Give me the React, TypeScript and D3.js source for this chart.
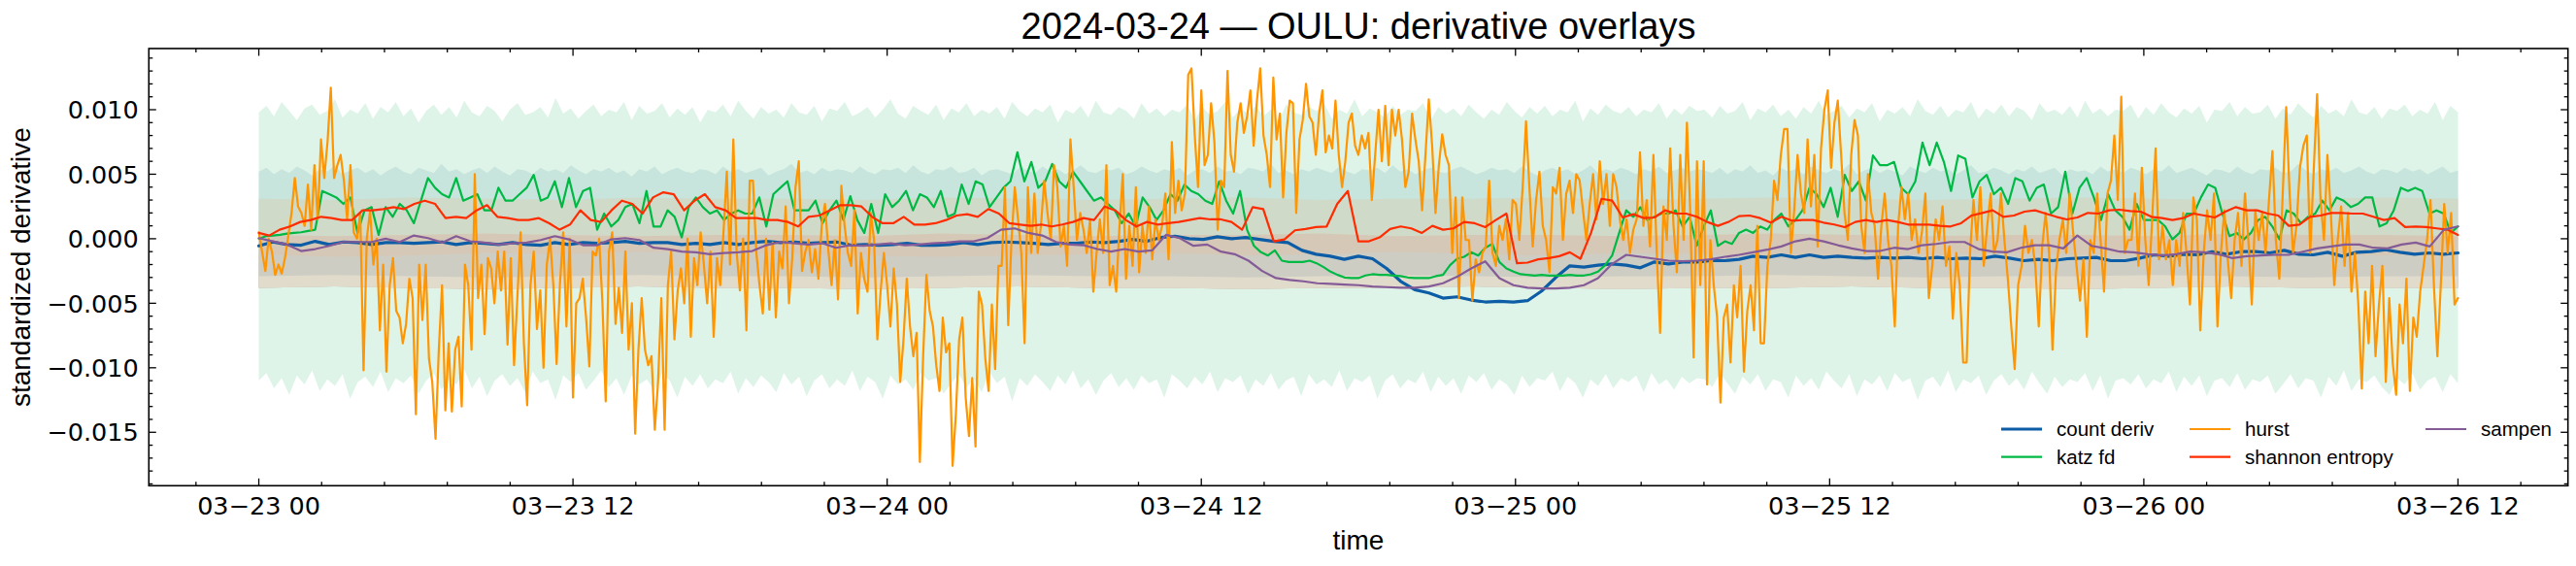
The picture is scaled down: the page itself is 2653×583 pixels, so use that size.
import React from "react";
import * as d3 from "d3";

// time base: 2024-03-23 00:00 UTC, data covers 84 h, read in four 21 h quarters
const START = Date.UTC(2024, 2, 23, 0, 0);
const HOUR = 3600 * 1000;
const SPAN_H = 84;
const QUARTER_H = 21;

// all values below are standardized derivative in units of 1e-3

const countDerivQ1 = [-0.55, -0.25, -0.45, -0.5, -0.2, -0.45, -0.25, -0.3, -0.45, -0.3, -0.3, -0.35, -0.3, -0.25, -0.45, -0.3, -0.35, -0.45, -0.3, -0.45, -0.5, -0.3, -0.45, -0.3, -0.35, -0.3, -0.2, -0.35, -0.3, -0.3, -0.45, -0.35, -0.45, -0.3, -0.45, -0.3, -0.2, -0.3, -0.25];
const countDerivQ2 = [-0.35, -0.3, -0.25, -0.5, -0.45, -0.5, -0.45, -0.35, -0.5, -0.5, -0.45, -0.3, -0.45, -0.3, -0.25, -0.3, -0.35, -0.45, -0.35, -0.35, -0.25, -0.3, -0.2, -0.05, -0.2, 0.1, 0.2, 0.0, -0.05, 0.15, 0.0, 0.1, -0.05, -0.2, -0.3, -0.9, -1.2, -1.35, -1.6];
const countDerivQ3 = [-1.35, -1.55, -2.3, -3.3, -3.95, -4.2, -4.6, -4.5, -4.75, -4.9, -4.85, -4.9, -4.8, -4.05, -3.0, -2.1, -2.2, -2.05, -1.95, -2.05, -2.25, -1.8, -1.95, -1.8, -1.8, -1.7, -1.7, -1.6, -1.35, -1.45, -1.25, -1.45, -1.25, -1.45, -1.35, -1.45, -1.5, -1.45, -1.5];
const countDerivQ4 = [-1.45, -1.55, -1.45, -1.55, -1.5, -1.55, -1.35, -1.5, -1.7, -1.6, -1.7, -1.55, -1.5, -1.45, -1.7, -1.7, -1.5, -1.25, -1.35, -1.2, -1.25, -1.0, -1.2, -1.0, -1.0, -1.1, -0.9, -1.2, -1.25, -1.05, -1.35, -1.05, -1.0, -0.85, -1.05, -1.2, -1.1, -1.2, -1.1];

const katzQ1 = [0, 0.2, 0.25, 0.3, 0.4, 0.45, 0.5, 0.6, 0.7, 3.7, 3.45, 3.2, 2.7, 3.2, 0.45, 2.2, 2.45, 0.3, 2.45, 1.7, 2.7, 2.2, 1.2, 2.95, 4.7, 3.95, 3.45, 3.2, 4.7, 2.95, 3.2, 3.45, 2.2, 2.2, 3.95, 2.95, 2.95, 3.45, 3.95, 4.95, 2.95, 3.2, 4.45, 2.45, 4.7, 2.45, 3.7, 3.95, 0.7, 1.95, 0.95, 1.45, 2.45, 2.7, 1.2, 3.7, 0.95, 0.95, 2.2, 1.7, 0.1, 2.45, 3.2, 2.45, 1.95, 2.2, 1.45, 1.95, 2.2, 1.95, 1.95, 3.2, 0.95, 3.45, 3.95, 4.45, 2.2, 2.2];
const katzQ2 = [2.2, 2.95, 1.2, 2.2, 2.95, 1.45, 3.3, 1.45, 0.45, 2.7, 0.45, 3.45, 2.45, 2.95, 3.7, 2.2, 3.45, 3.2, 2.45, 3.7, 1.7, 1.95, 4.2, 2.7, 4.45, 4.2, 2.45, 3.2, 3.95, 4.45, 6.7, 4.45, 5.95, 3.95, 4.45, 5.8, 4.45, 3.95, 5.2, 4.45, 3.7, 2.95, 3.2, 2.7, 2.2, 1.2, 1.95, 0.95, 3.2, 2.45, 1.45, 2.2, 3.45, 2.95, 4.2, 3.7, 3.45, 2.95, 2.7, 4.45, 2.95, 1.95, 3.7, 0.7, -0.55, -1.05, -1.3, -0.9, -1.7, -1.8, -1.8, -1.8, -1.7, -1.9, -2.2, -2.55, -2.8, -3.0, -3.05];
const katzQ3 = [-3.05, -2.85, -2.75, -2.8, -2.8, -2.85, -2.9, -3.0, -3.05, -3.05, -3.05, -2.9, -2.8, -2.05, -1.55, -1.4, -1.05, -1.3, -0.7, -0.4, -1.8, -2.3, -2.55, -2.75, -2.8, -2.85, -2.8, -2.85, -2.85, -2.85, -2.8, -2.85, -2.85, -2.75, -2.55, -2.05, -1.3, 0.45, 2.2, 1.7, 2.45, 1.45, 1.7, 1.95, 1.95, 2.2, 0.95, 1.7, -0.55, 0.95, 2.2, -0.55, -0.2, -0.4, 0.45, 0.7, 0.45, 0.95, 0.7, 1.45, 1.95, 0.95, 1.45, 2.2, 3.95, 3.45, 2.45, 3.95, 1.7, 4.95, 3.7, 4.45, 2.95, 6.45, 5.7, 5.7, 5.95, 3.95];
const katzQ4 = [3.45, 4.45, 7.45, 5.7, 7.45, 5.95, 3.7, 6.45, 6.2, 3.2, 4.45, 4.95, 3.45, 3.95, 2.7, 4.7, 4.45, 2.95, 3.95, 4.2, 1.95, 2.45, 5.2, 1.95, 3.95, 4.7, 3.2, 1.45, 3.45, 2.2, 1.7, 0.7, 2.7, 1.45, 1.45, 1.45, 0.95, -0.05, 0.45, 1.95, 1.95, 3.2, 4.2, 3.95, 1.95, 0.2, 0.45, -0.05, 0.45, 1.45, 1.7, 0.95, -0.05, 2.2, 1.95, 1.2, 1.7, 1.95, 2.95, 2.2, 3.2, 2.95, 2.45, 2.7, 3.2, 3.2, 0.95, 1.2, 2.2, 3.95, 3.7, 3.95, 3.7, 1.95, 2.2, 1.95, 0.45, 0.95];

const hurstQ1 = [0.5, -1.0, -2.5, 0, -1.0, -2.8, -2.0, -2.7, -1.5, 0.2, 2.0, 4.7, 2.5, 2.0, 1.0, 4.2, 0.7, 5.7, 1.5, 7.7, 4.7, 7.5, 11.7, 4.7, 5.7, 6.5, 4.5, 1.5, 5.7, 0.5, 0, 2.0, -10.2, 0, 2.2, -2.0, 0, -7.1, -2.0, -10.3, -3.6, -1.5, -5.6, -6.1, -8.1, -6.6, -3.1, -4.6, -13.6, -2.0, -6.3, -2.0, -9.3, -11.1, -15.5, -8.6, -3.6, -13.3, -8.1, -13.4, -8.6, -7.6, -13.0, -2.0, -3.6, -8.6, 5.0, -4.6, -2.0, -7.4, -1.5, -2.3, -5.0, -1.0, -4.0, -1.0, -8.2, -1.5, -9.8, -4.6, 0.5, -8.1, -12.9, -3.6, -1.0, -7.0, -4.0, -10.0, -2.0, 0, -3.6, -9.7, -3.6, 0.5, -6.8, 0, -12.3, -5.0, -4.6, -3.1, -6.1, -9.9, -1.0, -1.3, 0, -5.0, -12.6, -1.0, 0.5, -6.6, -3.8, -7.3, -1.0, -8.6, -5.0, -15.1, -8.6, -4.6, -8.6, -9.8, -9.1, -14.8, -11.1, -4.6, -14.8, -3.6, -1.0, -7.8, -4.0, -2.3, -5.0, 0, -7.6, -1.5, -3.6, 0.5, -2.0, -5.0, -1.0, -7.6, -1.5, -3.6, 0.5, 5.2, -2.0, 7.7, -1.0, -4.0, 0, -7.1, 4.5, 4.5, -1.0, -3.6, -5.8, 0, -5.5, -0.3, -6.1, -1.0, -2.3, 2.5, -5.0, -1.5, 4.0, 6.0, -2.5, -1.0];
const hurstQ2 = [-0.1, -2.6, -0.8, -3.1, 1.0, 2.7, -0.8, -3.6, -0.1, -4.7, 4.1, 1.0, -1.1, -2.1, 2.2, -5.8, -1.1, -3.1, -4.1, 2.0, -0.1, -7.8, -4.1, -1.1, -3.6, -6.8, -2.3, -5.1, -11.1, -7.8, -3.1, -6.8, -9.1, -7.3, -17.3, -9.1, -2.8, -5.6, -6.8, -9.8, -11.8, -6.1, -8.8, -8.1, -17.6, -13.6, -7.8, -6.1, -12.3, -15.3, -10.8, -16.1, -4.1, -5.1, -9.3, -11.8, -5.1, -10.1, -2.1, -2.1, 4.0, -6.7, -0.1, 4.0, 1.5, -1.1, -8.1, 4.0, -1.1, 3.5, -1.1, 1.0, 4.5, 2.0, -0.1, 5.7, 4.0, -0.6, 1.0, -2.1, 7.7, 4.0, -0.1, 2.0, 0.7, -1.1, 1.5, -4.1, -1.1, 1.5, -1.1, 5.7, -3.6, -2.1, -4.1, 1.0, 5.0, -3.1, 1.0, -2.1, 4.0, -2.6, 1.0, -1.1, 2.5, -1.6, 1.5, -0.1, 1.0, 3.5, -1.6, 7.5, 2.0, 4.5, 2.2, 3.5, 12.7, 13.2, 8.0, 4.0, 11.5, 5.7, 6.5, 10.5, 7.5, 0.7, 4.5, 4.0, 13.0, 6.5, 5.2, 9.0, 10.5, 8.2, 9.5, 11.5, 7.2, 10.7, 13.2, 8.0, 6.5, 4.0, 12.5, 7.7, 9.7, 3.2, 8.2, 10.7, 10.5, 2.0, 7.7, 9.2, 12.0, 9.5, 9.0, 6.5, 9.7, 11.5, 6.7, 8.0, 7.0, 10.7, 6.5, 4.0, 6.0, 9.0, 9.7, 7.2];
const hurstQ3 = [6.5, 8.0, 7.0, 8.2, 3.0, 6.5, 10.0, 6.0, 10.3, 5.7, 10.0, 8.0, 10.0, 7.7, 4.0, 5.2, 9.7, 7.7, 6.0, 2.2, 6.5, 10.8, 7.2, 2.0, 5.7, 8.1, 6.5, 5.7, -1.1, 3.2, -4.6, 3.2, -0.1, -0.1, -4.8, -1.6, -2.6, -1.1, -0.6, 4.5, -1.1, -2.1, 1.0, -0.1, 1.5, -1.6, 3.0, 2.7, -0.1, 4.0, 9.1, 4.0, -0.6, 3.0, 5.2, 1.0, -0.1, -2.6, 4.0, 3.5, 5.5, -0.1, 3.5, 4.5, 2.0, 5.0, 4.5, 2.2, -0.1, 2.7, 5.0, 1.5, 6.0, 2.7, 5.0, 1.0, 5.0, 4.0, 1.5, -0.1, 1.5, -1.1, 0.7, 1.5, 6.7, 1.0, 3.0, -0.6, 6.5, -1.1, -7.3, 2.5, -0.1, 7.0, 1.0, -2.6, 6.5, -0.1, 9.0, 2.0, -9.2, 6.0, -3.6, 6.0, -11.3, -0.1, -3.6, -6.1, -12.7, -6.1, -5.1, -9.6, -3.6, -6.1, -2.1, -10.3, -5.6, -3.6, -7.1, 1.0, -8.1, -8.1, -2.1, -0.1, 4.5, 3.0, 6.5, 8.5, 8.5, -1.1, 2.2, 6.5, 3.5, 2.0, 7.7, 2.5, 6.5, -0.6, 7.0, 10.0, 11.5, 5.5, 9.0, 10.7, 6.5, 2.0, -0.1, 6.5, 9.2, 8.0, 1.0, -1.1, 5.0, 2.0, 1.0, -3.1, 1.0, 3.5, -0.1, -2.1, -6.8, 1.0, 4.0, 1.5];
const hurstQ4 = [3.5, -0.1, 1.5, -1.1, 0.5, 3.5, -4.6, -2.1, 1.5, -0.1, 2.5, -2.1, -0.6, -6.2, -1.1, -3.6, -9.6, -9.6, -1.1, 3.0, -0.1, 4.0, -2.1, 1.0, 3.5, -1.1, -0.1, 3.5, -0.1, -3.1, -6.8, -10.1, -3.6, -2.1, 1.0, -1.1, -0.1, -2.1, -6.8, -0.6, 2.0, -1.1, -8.6, -2.6, -0.1, 1.5, -1.1, 3.5, 0.5, -2.1, -4.8, -1.6, -7.6, -0.1, -1.1, 3.5, -0.1, -4.1, 3.5, 4.5, 8.0, 3.0, 11.0, -1.1, -0.1, -0.1, 3.5, -2.1, 5.5, -0.1, -3.6, 1.5, 7.0, -1.6, 1.0, -1.6, -0.1, -3.6, -0.1, -2.1, 2.0, -1.1, -5.1, 3.2, 1.5, -7.1, -1.1, 2.2, -0.1, 3.5, -6.8, -1.1, 2.2, -1.6, -4.6, -0.1, 2.0, -2.1, 3.5, -0.1, -5.1, 2.2, -0.1, 2.0, -1.1, 3.0, 6.8, -0.1, -3.1, 3.5, 10.2, 3.5, -1.1, 1.0, 5.5, 7.2, 8.0, -1.1, 5.2, 11.2, 3.0, -0.1, 6.5, 2.0, -3.6, -0.1, 2.5, -2.1, 2.0, -4.1, -1.1, -5.1, -11.6, -4.1, -8.1, -2.1, -9.1, -5.1, -2.1, -11.1, -4.6, -9.6, -12.1, -5.1, -8.1, -3.1, -11.8, -6.1, -7.6, -4.1, -2.1, -0.1, 3.0, -3.6, -9.1, -3.6, 2.7, -1.1, 2.0, -5.1, -4.6];

const shannonQ1 = [0.45, 0.25, 0.7, 0.95, 1.3, 1.45, 1.7, 1.6, 1.45, 1.45, 2.2, 2.2, 2.3, 2.45, 2.3, 2.7, 2.95, 2.7, 1.6, 1.7, 1.6, 2.2, 2.6, 1.7, 1.6, 1.45, 1.45, 1.6, 1.2, 0.7, 1.1, 2.2, 1.45, 1.3, 2.2, 2.95, 2.7, 1.95, 3.2, 3.6, 3.45, 2.2, 2.95, 3.45, 2.45, 2.2, 1.6, 1.6, 1.6, 1.45, 1.45, 1.3, 0.95];
const shannonQ2 = [1.7, 1.8, 2.2, 2.6, 2.6, 2.5, 1.7, 1.2, 1.2, 1.7, 1.1, 1.1, 1.2, 1.45, 1.8, 1.9, 1.7, 2.3, 1.95, 1.2, 1.1, 1.0, 1.1, 0.95, 1.1, 1.3, 1.6, 1.45, 2.5, 2.2, 1.45, 0.95, 1.3, 1.1, 1.2, 1.3, 1.45, 1.6, 1.5, 1.5, 1.3, 0.7, 2.45, 2.3, -0.2, -0.05, 0.65, 0.75, 0.9, 0.95, 2.7, 3.7];
const shannonQ3 = [-0.2, -0.2, 0.1, 0.75, 0.95, 0.8, 0.45, 1.0, 0.7, 0.8, 1.3, 1.2, 0.9, 1.45, 1.95, -1.9, -1.85, -1.6, -1.5, -1.35, -1.05, -1.55, 0.45, 3.1, 2.95, 1.65, 1.9, 1.6, 1.65, 2.2, 1.95, 1.95, 1.7, 1.3, 1.0, 1.3, 1.75, 1.8, 1.6, 1.25, 1.7, 1.4, 1.45, 1.45, 1.25, 1.1, 0.9, 1.3, 1.45, 1.3, 1.45, 1.3];
const shannonQ4 = [1.1, 1.1, 1.1, 1.0, 0.95, 1.2, 1.8, 2.0, 2.2, 1.7, 1.8, 2.1, 2.2, 1.95, 1.7, 1.5, 1.65, 2.0, 1.95, 2.2, 2.25, 2.15, 2.1, 1.7, 1.6, 1.45, 1.6, 1.95, 1.8, 1.65, 2.1, 2.45, 2.2, 2.2, 1.95, 1.8, 1.0, 1.1, 1.7, 1.8, 2.0, 2.0, 1.95, 1.95, 1.7, 1.45, 1.6, 0.9, 0.95, 0.9, 0.8, 0.7, 0.3];

const sampenQ1 = [0.05, -0.2, -0.45, -0.95, -0.8, -0.55, -0.25, -0.25, -0.25, 0.0, -0.25, 0.25, 0.05, -0.3, 0.2, -0.2, -0.3, -0.45, -0.35, -0.3, -0.1, 0.2, -0.05, -0.5, -0.5, -0.05, 0.05, -0.1, -0.7, -0.8, -1.0, -1.05, -1.2, -1.1, -1.05, -0.95, -0.5, -0.25, -0.35];
const sampenQ2 = [-0.45, -0.35, -0.7, -0.5, -0.55, -0.45, -0.35, -0.5, -0.45, -0.35, -0.3, -0.2, -0.2, 0.05, 0.7, 0.8, 0.45, 0.25, -0.25, -0.45, -0.5, -0.8, -1.0, -0.8, -1.0, -0.9, 0.3, 0.05, -0.55, -0.45, -1.0, -1.2, -1.7, -2.5, -3.05, -3.2, -3.3, -3.45, -3.5, -3.55];
const sampenQ3 = [-3.6, -3.7, -3.75, -3.8, -3.8, -3.7, -3.45, -2.95, -2.3, -1.75, -3.05, -3.6, -3.8, -3.85, -3.85, -3.8, -3.6, -3.05, -1.95, -1.25, -1.4, -1.55, -1.7, -1.75, -1.7, -1.6, -1.4, -1.25, -1.05, -0.85, -0.6, -0.2, 0.0, -0.2, -0.5, -0.75, -0.95, -0.95, -0.7];
const sampenQ4 = [-0.8, -0.5, -0.4, -0.25, -0.25, -0.8, -1.0, -1.05, -0.7, -0.5, -0.5, -0.75, 0.25, -0.55, -0.75, -1.0, -1.05, -1.2, -1.3, -1.2, -1.0, -1.05, -1.2, -1.5, -1.35, -1.3, -1.25, -1.25, -1.0, -0.75, -0.6, -0.45, -0.45, -0.7, -0.75, -0.45, -0.3, -0.6, 0.7, 0.95];

// shaded bands, edges spread evenly over the 84 h
const mintUpper = [9.8, 10.3, 9.5, 10.6, 9.9, 9.2, 10.1, 10.4, 9.6, 9.9, 10.8, 9.4, 10.0, 9.7, 10.5, 9.3, 10.2, 9.8, 10.6, 9.5, 10.1, 9.0, 9.9, 10.4, 9.6, 10.2, 9.4, 10.7, 9.8, 9.5, 10.3, 9.9, 9.1, 10.0, 10.5, 9.6, 9.8, 10.2, 9.4, 10.9, 9.7, 10.1, 9.3, 9.9, 10.4, 9.5, 10.0, 9.8, 10.6, 9.2, 10.3, 9.7, 9.9, 10.5, 9.4, 10.1, 9.6, 10.2, 9.0, 10.0, 9.8, 10.4, 9.5, 10.7, 9.9, 9.3, 10.2, 9.7, 10.0, 9.4, 10.5, 9.8, 9.6, 10.3, 9.1, 10.1, 9.9, 10.6, 9.5, 9.8, 10.2, 9.4, 10.0, 10.8, 9.7, 9.3, 10.3, 9.9, 9.6, 10.4, 9.2, 10.1, 9.8, 10.5, 9.5, 10.0, 9.7, 10.2, 9.3, 10.6, 9.9, 9.5, 10.1, 9.8, 10.4, 9.0, 10.0, 9.7, 10.3, 9.4, 10.7, 9.8, 9.6, 10.2, 9.9, 9.3, 10.5, 9.7, 10.1, 9.5, 10.0, 9.8, 10.4, 9.2, 10.2, 9.6, 9.9, 10.6, 9.4, 10.1, 9.7, 10.3, 9.5, 10.0, 9.1, 10.4, 9.8, 9.6, 10.2, 9.9, 10.5, 9.3, 10.0, 9.7, 10.8, 9.5, 10.1, 9.8, 9.4, 10.3, 9.6, 10.0, 9.9, 10.5, 9.2, 10.2, 9.7, 10.1, 9.5, 10.4, 9.8, 9.3, 10.0, 9.6, 10.6, 9.9, 9.4, 10.2, 9.7, 10.3, 9.5, 10.0, 9.8, 10.7, 9.1, 10.1, 9.6, 10.4, 9.9, 9.7, 10.2, 9.5, 10.0, 9.8, 10.5, 9.3, 10.1, 9.6, 10.3, 9.9,
  10.0, 9.4, 10.3, 9.7, 9.9, 10.6, 9.2, 10.1, 9.8, 10.4, 9.5, 10.0, 9.3, 10.2, 9.7, 10.7, 9.6, 9.9, 10.3, 9.4, 10.1, 9.8, 10.5, 9.1, 10.0, 9.7, 10.2, 9.5, 10.8, 9.9, 9.6, 10.3, 9.4, 10.0, 9.8, 10.6, 9.3, 10.1, 9.7, 10.4, 9.5, 10.2, 9.9, 9.2, 10.5, 9.8, 10.0, 9.6, 10.3, 9.4, 10.7, 9.7, 10.1, 9.5, 10.0, 9.9, 10.4, 9.3, 10.2, 9.6, 10.5, 9.8, 9.4, 10.1, 9.7, 10.3, 9.0, 10.0, 9.9, 10.6, 9.5, 10.2, 9.7, 9.8, 10.4, 9.3, 10.1, 9.6, 10.5, 9.9, 9.4, 10.3, 9.7, 10.0, 9.5, 10.8, 9.8, 9.6, 10.2, 9.3, 10.1, 9.9, 10.4, 9.5, 10.0, 9.7, 10.6, 9.2, 10.3, 9.8];
const mintLower = [-11.0, -10.4, -11.6, -10.8, -12.1, -10.6, -11.3, -10.2, -11.8, -10.9, -11.4, -10.5, -12.4, -11.1, -10.7, -11.5, -10.3, -11.9, -10.8, -11.2, -10.6, -12.0, -11.0, -10.4, -11.7, -10.9, -11.3, -10.1, -11.6, -10.7, -12.2, -11.0, -10.5, -11.4, -10.8, -11.9, -10.3, -11.2, -10.9, -12.5, -10.6, -11.1, -10.4, -11.7, -11.0, -10.2, -11.5, -10.8, -12.1, -10.6, -11.3, -10.9, -11.8, -10.4, -11.0, -12.3, -10.7, -11.4, -10.5, -11.6, -10.9, -11.2, -10.3, -12.0, -10.8, -11.5, -10.6, -11.1, -11.9, -10.4, -11.3, -10.7, -12.2, -11.0, -10.5, -11.6, -10.9, -11.4, -10.2, -11.8, -10.7, -11.1, -12.4, -10.6, -11.3, -10.9, -11.7, -10.4, -11.0, -10.8, -12.0, -11.2, -10.5, -11.5, -10.9, -11.9, -10.3, -11.2, -10.7, -12.6, -10.8, -11.4, -10.5, -11.1, -11.8, -10.6, -11.3, -10.2, -11.6, -10.9, -12.1, -11.0, -10.4, -11.5, -10.8, -11.7, -10.6, -11.2, -10.9, -12.3, -10.5, -11.0, -11.6, -10.7, -11.3, -10.3, -11.9, -10.8, -11.1, -10.6, -12.0, -10.9, -11.4, -10.4, -11.7, -11.0, -10.7, -12.2, -10.5, -11.3, -10.9, -11.5, -10.2, -11.8, -10.8, -11.1, -10.6, -12.4, -11.0, -10.5, -11.6, -10.9, -11.2, -10.3, -11.9, -10.7, -11.4, -10.8, -12.0, -10.6, -11.1, -10.4, -11.7, -10.9, -11.3, -12.1, -10.6, -11.5, -10.8, -11.0, -10.3, -11.8, -10.7, -11.2, -12.3, -10.9, -11.4, -10.5, -11.6, -10.8, -11.1, -10.6, -11.9, -10.4, -11.3, -10.9, -11.7, -10.7, -11.2, -10.8,
  -10.9, -11.5, -10.4, -11.2, -12.0, -10.7, -11.3, -10.5, -11.8, -10.9, -11.1, -12.3, -10.6, -11.4, -10.8, -11.7, -10.3, -11.0, -11.6, -10.5, -12.2, -10.9, -11.3, -10.6, -11.8, -10.4, -11.1, -10.8, -12.5, -11.0, -10.7, -11.5, -10.2, -11.9, -10.9, -11.2, -10.6, -12.1, -11.0, -10.5, -11.4, -10.8, -11.7, -10.3, -11.2, -12.0, -10.7, -11.5, -10.9, -11.1, -10.4, -11.8, -10.6, -12.4, -11.0, -10.8, -11.3, -10.5, -11.6, -10.9, -11.2, -10.3, -11.9, -10.7, -11.4, -10.6, -12.2, -11.0, -10.8, -11.5, -10.4, -11.7, -10.9, -11.1, -10.6, -12.0, -11.3, -10.5, -11.6, -10.8, -11.0, -12.3, -10.7, -11.4, -10.2, -11.8, -10.9, -11.1, -10.6, -11.5, -12.1, -10.8, -11.3, -10.4, -11.7, -11.0, -10.7, -11.9, -10.5, -11.2];
const tealUpper = [5.2, 5.5, 5.0, 5.4, 5.1, 5.6, 5.3, 4.9, 5.4, 5.2, 5.7, 5.0, 5.3, 5.5, 5.1, 5.4, 4.9, 5.3, 5.6, 5.2, 5.0, 5.5, 5.3, 5.1, 5.8, 5.2, 5.4, 5.0, 5.3, 5.5, 5.1, 5.6, 5.2, 4.9, 5.4, 5.3, 5.0, 5.5, 5.2, 5.4, 5.1, 5.7, 5.3, 5.0, 5.4, 5.2, 5.5, 5.1, 5.3, 4.8, 5.4, 5.2, 5.6, 5.0, 5.3, 5.5, 5.2, 5.1, 5.4, 5.3, 5.0, 5.6, 5.2, 5.4, 5.1, 5.3, 5.5, 4.9, 5.2, 5.4, 5.8, 5.1, 5.3, 5.0, 5.5, 5.2, 5.4, 5.3, 5.1, 5.6, 5.2, 5.0, 5.4, 5.3, 5.5, 5.1, 5.7, 5.2, 5.0, 5.4, 5.3, 5.6, 5.1, 5.2, 5.5, 4.9, 5.3, 5.4, 5.2, 5.0, 5.5, 5.3, 5.1, 5.6, 5.2, 5.4, 5.0, 5.3, 5.7, 5.2, 5.1, 5.4, 5.3, 5.5, 5.0, 5.2, 5.6, 5.3, 5.1, 5.4, 5.2, 5.5, 4.9, 5.3, 5.4, 5.1, 5.6, 5.2, 5.3, 5.0, 5.5, 5.4, 5.2, 5.8, 5.1, 5.3, 5.0, 5.4, 5.2, 5.5, 5.3, 5.1, 5.6, 5.2, 5.0, 5.4, 5.3, 5.5, 5.1, 5.7, 5.2, 5.4, 5.0, 5.3, 5.5, 5.2, 5.1, 5.4, 5.6, 5.3, 5.0, 5.2, 5.5, 5.3, 5.4, 5.1, 5.6, 5.2, 4.9, 5.3, 5.5, 5.2, 5.4, 5.0, 5.3, 5.7, 5.1, 5.4, 5.2, 5.5, 5.3, 5.0, 5.4, 5.2, 5.6, 5.1, 5.3, 5.5, 5.2, 5.4,
  5.3, 5.1, 5.5, 5.0, 5.4, 5.2, 5.7, 5.1, 5.3, 4.9, 5.5, 5.2, 5.4, 5.0, 5.6, 5.3, 5.1, 5.4, 5.2, 5.8, 5.0, 5.3, 5.5, 5.1, 5.4, 5.2, 4.9, 5.6, 5.3, 5.1, 5.5, 5.2, 5.4, 5.0, 5.3, 5.7, 5.1, 5.2, 5.5, 5.3, 5.0, 5.4, 5.2, 5.6, 5.1, 5.3, 5.5, 4.9, 5.4, 5.2, 5.3, 5.0, 5.6, 5.2, 5.4, 5.1, 5.5, 5.3, 5.0, 5.4, 5.2, 5.7, 5.1, 5.3, 5.5, 5.2, 4.9, 5.4, 5.3, 5.1, 5.6, 5.2, 5.0, 5.4, 5.3, 5.5, 5.1, 5.2, 5.8, 5.3, 5.0, 5.4, 5.2, 5.5, 5.1, 5.3, 5.6, 5.2, 5.0, 5.4, 5.3, 5.1, 5.5, 5.2, 5.4, 5.0, 5.3, 5.6, 5.1, 5.3];
const sageUpper = [3.1, 3.0, 3.2, 3.1, 3.0, 3.2, 3.1, 3.1, 3.0, 3.2, 3.1, 3.0, 3.1, 3.2, 3.0, 3.1, 3.1, 3.2, 3.0, 3.1, 3.2, 3.1, 3.0, 3.1, 3.2, 3.1, 3.0, 3.1, 3.2, 3.1];
const roseUpper = [0.3, 0.2, 0.3, 0.4, 0.3, 0.2, 0.3, 0.3, 0.2, 0.4, 0.3, 0.2, 0.3, 0.3, 0.4, 0.2, 0.3, 0.3, 0.2, 0.3, 0.4, 0.3, 0.2, 0.3, 0.3, 0.2, 0.4, 0.3, 0.3, 0.2];
const greyUpper = [-1.2, -1.4, -1.3, -1.1, -1.2, -1.0, -1.1, -1.2, -1.3, -1.4, -1.3, -1.2, -1.1, -1.3, -1.2, -1.0, -1.2, -1.3, -1.1, -1.2, -1.4, -1.3, -1.2, -1.1, -1.2, -1.3, -1.1, -1.2, -1.3, -1.2];
const beigeUpper = [-2.9, -2.8, -2.9, -3.0, -2.9, -2.8, -2.9, -2.9, -3.0, -2.9, -2.8, -2.9, -2.9, -3.0, -2.9, -2.8, -2.9, -3.0, -2.9, -2.9, -2.8, -2.9, -3.0, -2.9, -2.9, -2.8, -2.9, -3.0, -2.9, -2.9];
const beigeLower = [-3.8, -3.7, -3.8, -3.9, -3.8, -3.7, -3.8, -3.8, -3.9, -3.8, -3.7, -3.8, -3.8, -3.9, -3.8, -3.8, -3.7, -3.8, -3.9, -3.8, -3.8, -3.7, -3.8, -3.8, -3.9, -3.8, -3.7, -3.8, -3.8, -3.8];

const W = 2653;
const H = 583;
const PLOT = { left: 153.3, right: 2644.7, top: 50, bottom: 500.3 };
const SANS = "'Liberation Sans', Arial, Helvetica, sans-serif";
const MATH = "'DejaVu Sans', sans-serif";

type Pt = [number, number];

function quarterPoints(parts: number[][]): Pt[] {
  const pts: Pt[] = [];
  parts.forEach((vals, q) => {
    const last = q === parts.length - 1;
    const step = QUARTER_H / (last ? vals.length - 1 : vals.length);
    vals.forEach((v, j) => pts.push([START + (q * QUARTER_H + j * step) * HOUR, v * 1e-3]));
  });
  return pts;
}

function spanPoints(vals: number[]): Pt[] {
  const step = SPAN_H / (vals.length - 1);
  return vals.map((v, j) => [START + j * step * HOUR, v * 1e-3] as Pt);
}

const series = [
  { name: "count deriv", color: "#0C5DA5", width: 3.2, pts: quarterPoints([countDerivQ1, countDerivQ2, countDerivQ3, countDerivQ4]) },
  { name: "katz fd", color: "#00B945", width: 2.2, pts: quarterPoints([katzQ1, katzQ2, katzQ3, katzQ4]) },
  { name: "hurst", color: "#FF9500", width: 2.2, pts: quarterPoints([hurstQ1, hurstQ2, hurstQ3, hurstQ4]) },
  { name: "shannon entropy", color: "#FF2C00", width: 2.2, pts: quarterPoints([shannonQ1, shannonQ2, shannonQ3, shannonQ4]) },
  { name: "sampen", color: "#845B97", width: 2.2, pts: quarterPoints([sampenQ1, sampenQ2, sampenQ3, sampenQ4]) },
];

// painted back to front, each one covering the lower part of the previous
const bands = [
  { color: "#DFF4E8", upper: mintUpper, lower: mintLower },
  { color: "#C7E4DD", upper: tealUpper, lower: beigeLower },
  { color: "#D0DAC8", upper: sageUpper, lower: beigeLower },
  { color: "#D6C8B6", upper: roseUpper, lower: beigeLower },
  { color: "#CDCDC4", upper: greyUpper, lower: beigeLower },
  { color: "#E0DBCB", upper: beigeUpper, lower: beigeLower },
];

// legend is filled column by column, three columns
const legendCols = [2061, 2255, 2498];
const legendRows = [442, 470.7];

export default function App() {
  const allY = [
    ...series.flatMap(s => s.pts.map(p => p[1])),
    ...mintUpper.map(v => v * 1e-3),
    ...mintLower.map(v => v * 1e-3),
  ];
  const [ymin, ymax] = d3.extent(allY) as [number, number];
  const ypad = (ymax - ymin) * 0.05;
  const y = d3.scaleLinear().domain([ymin - ypad, ymax + ypad]).range([PLOT.bottom, PLOT.top]);

  const t1 = START + SPAN_H * HOUR;
  const xpad = (t1 - START) * 0.05;
  const x = d3.scaleUtc().domain([START - xpad, t1 + xpad]).range([PLOT.left, PLOT.right]);
  const [d0, d1] = x.domain().map(d => +d);

  const xMajor = d3.utcHour.every(12)!.range(new Date(d0), new Date(d1));
  const minorStep = 2.4 * HOUR;
  const xMinor = d3.range(Math.ceil((d0 - START) / minorStep), Math.floor((d1 - START) / minorStep) + 1)
    .filter(k => k % 5 !== 0)
    .map(k => START + k * minorStep);

  const yMajor = y.ticks(7);
  const [ylo, yhi] = y.domain();
  const yMinor = d3.ticks(ylo, yhi, 34).filter(v => !yMajor.some(m => Math.abs(m - v) < 1e-9));

  const fmtY = d3.format(".3f");
  const fmtX = d3.utcFormat("%m-%d %H");

  const line = d3.line<Pt>().x(d => x(d[0])).y(d => y(d[1]));
  const bandPath = (upper: number[], lower: number[]) => {
    const up = spanPoints(upper);
    const lo = spanPoints(lower).reverse();
    return (line([...up, ...lo]) || "") + "Z";
  };

  const majorLen = 7.5;
  const minorLen = 4;

  return (
    <svg width={W} height={H} viewBox={`0 0 ${W} ${H}`}
      style={{ position: "absolute", left: 0, top: 0, display: "block", background: "#fff" }}>
      <rect x={0} y={0} width={W} height={H} fill="#fff" />

      <g>
        {bands.map((b, i) => (
          <path key={i} d={bandPath(b.upper, b.lower)} fill={b.color} stroke="none" />
        ))}
      </g>

      <g fill="none" strokeLinejoin="round" strokeLinecap="round">
        {series.map(s => (
          <path key={s.name} d={line(s.pts) || ""} stroke={s.color} strokeWidth={s.width} />
        ))}
      </g>

      {/* ticks, inward on all four sides */}
      <g stroke="#000" strokeWidth={1.3}>
        {xMajor.map((d, i) => (
          <g key={"xm" + i}>
            <line x1={x(d)} x2={x(d)} y1={PLOT.bottom} y2={PLOT.bottom - majorLen} />
            <line x1={x(d)} x2={x(d)} y1={PLOT.top} y2={PLOT.top + majorLen} />
          </g>
        ))}
        {xMinor.map((d, i) => (
          <g key={"xn" + i}>
            <line x1={x(d)} x2={x(d)} y1={PLOT.bottom} y2={PLOT.bottom - minorLen} />
            <line x1={x(d)} x2={x(d)} y1={PLOT.top} y2={PLOT.top + minorLen} />
          </g>
        ))}
        {yMajor.map((v, i) => (
          <g key={"ym" + i}>
            <line x1={PLOT.left} x2={PLOT.left + majorLen} y1={y(v)} y2={y(v)} />
            <line x1={PLOT.right} x2={PLOT.right - majorLen} y1={y(v)} y2={y(v)} />
          </g>
        ))}
        {yMinor.map((v, i) => (
          <g key={"yn" + i}>
            <line x1={PLOT.left} x2={PLOT.left + minorLen} y1={y(v)} y2={y(v)} />
            <line x1={PLOT.right} x2={PLOT.right - minorLen} y1={y(v)} y2={y(v)} />
          </g>
        ))}
      </g>

      <rect x={PLOT.left} y={PLOT.top} width={PLOT.right - PLOT.left} height={PLOT.bottom - PLOT.top}
        fill="none" stroke="#000" strokeWidth={1.6} />

      <g fontFamily={MATH} fontSize={25.5} fill="#000">
        {yMajor.map((v, i) => (
          <text key={"yl" + i} x={PLOT.left - 10.6} y={y(v)} dy="0.36em" textAnchor="end">
            {fmtY(v).replace("-", "\u2212")}
          </text>
        ))}
        {xMajor.map((d, i) => (
          <text key={"xl" + i} x={x(d)} y={530} textAnchor="middle">
            {fmtX(d).replace("-", "\u2212")}
          </text>
        ))}
      </g>

      <text x={(PLOT.left + PLOT.right) / 2} y={40} textAnchor="middle" fontFamily={SANS} fontSize={38} fill="#000">
        2024-03-24 — OULU: derivative overlays
      </text>
      <text x={(PLOT.left + PLOT.right) / 2} y={566} textAnchor="middle" fontFamily={SANS} fontSize={28} fill="#000">
        time
      </text>
      <text transform={`translate(31, ${(PLOT.top + PLOT.bottom) / 2}) rotate(-90)`} textAnchor="middle"
        fontFamily={SANS} fontSize={28} fill="#000">
        standardized derivative
      </text>

      <g fontFamily={SANS} fontSize={20.5} fill="#000">
        {series.map((s, i) => {
          const cx = legendCols[Math.floor(i / 2)];
          const cy = legendRows[i % 2];
          return (
            <g key={"lg" + s.name}>
              <line x1={cx} x2={cx + 42} y1={cy} y2={cy} stroke={s.color} strokeWidth={s.width} />
              <text x={cx + 57} y={cy + 7.3}>{s.name}</text>
            </g>
          );
        })}
      </g>
    </svg>
  );
}
